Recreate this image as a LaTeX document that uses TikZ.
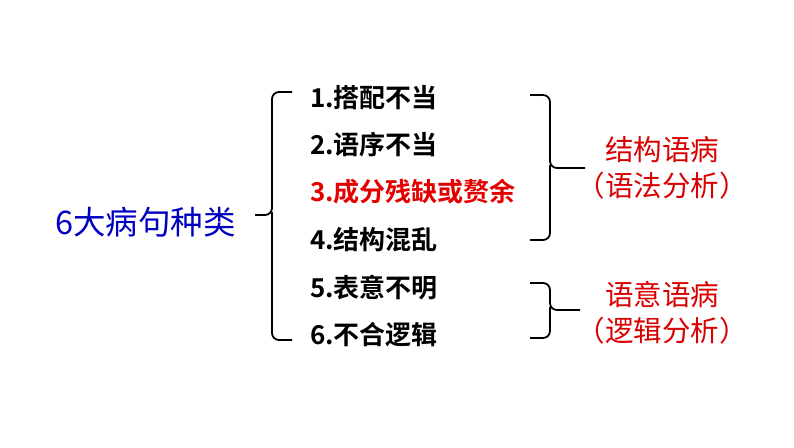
\documentclass[tikz,border=0pt]{standalone}
\usepackage{fontspec}
\newfontfamily\cjk{Noto Sans CJK SC}
\newfontfamily\cjkb{Noto Sans CJK SC Bold}
\begin{document}
\begin{tikzpicture}[x=1pt,y=-1pt,
  item/.style={anchor=west,font=\cjkb\fontsize{26}{29}\selectfont,inner sep=0},
  lab/.style={font=\cjk\fontsize{28.5}{32}\selectfont,text=red!85!black,inner sep=0},
  br/.style={line width=1.8pt,rounded corners=7pt}]
\useasboundingbox (0,0) rectangle (794,447);
\node[anchor=west,inner sep=0,font=\cjk\fontsize{32.5}{36}\selectfont,text=blue!75!black] (t) at (55,222) {6大病句种类};
\node[item] (i1) at (310,98) {1.搭配不当};
\node[item] (i2) at (310,145) {2.语序不当};
\node[item,text=red!90!black] (i3) at (310,192) {3.成分残缺或赘余};
\node[item] (i4) at (310,240) {4.结构混乱};
\node[item] (i5) at (310,288) {5.表意不明};
\node[item] (i6) at (310,335) {6.不合逻辑};
\draw[br] (292,92)--(272,92)--(272,215)--(255,215);
\draw[br] (272,212)--(272,340)--(292,340);
\draw[br] (530,95)--(550,95)--(550,168)--(585,168);
\draw[br] (550,165)--(550,240)--(530,240);
\draw[br] (530,283)--(550,283)--(550,310)--(580,310);
\draw[br] (550,307)--(550,338)--(530,338);
\node[lab] (l1) at (662,150) {结构语病};
\node[lab] (l2) at (662,186) {（语法分析）};
\node[lab] (l3) at (662,295) {语意语病};
\node[lab] (l4) at (662,331) {（逻辑分析）};
\end{tikzpicture}
\end{document}
